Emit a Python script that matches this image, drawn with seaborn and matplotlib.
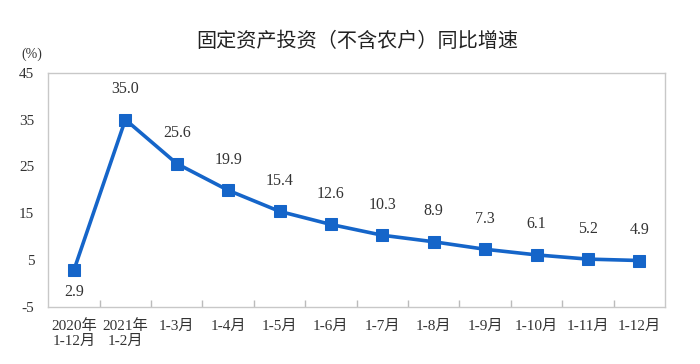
import numpy as np
import pandas as pd
import matplotlib.pyplot as plt
import seaborn as sns
from matplotlib.ticker import FixedLocator

# dados do gráfico
periods = ['2020年\n1-12月', '2021年\n1-2月', '1-3月', '1-4月', '1-5月', '1-6月',
           '1-7月', '1-8月', '1-9月', '1-10月', '1-11月', '1-12月']
growth = [2.9, 35.0, 25.6, 19.9, 15.4, 12.6, 10.3, 8.9, 7.3, 6.1, 5.2, 4.9]
y_ticks = [-5, 5, 15, 25, 35, 45]

sns.set_theme(style='white')
plt.rcParams['font.family'] = ['Liberation Serif', 'Noto Sans CJK SC']

df = pd.DataFrame({'pos': np.arange(len(periods)), 'growth': growth})

fig = plt.figure(figsize=(7, 3.64), dpi=100)
ax = fig.add_axes([0.069, 0.157, 0.881, 0.643])

blue = '#1565c9'
sns.lineplot(data=df, x='pos', y='growth', ax=ax, color=blue, linewidth=2.6,
             marker='s', markersize=8, markeredgecolor=blue, markerfacecolor=blue)

# rótulos dos valores
for i, v in enumerate(growth):
    if i == 0:
        ax.annotate(f'{v:.1f}', (i, v), xytext=(0, -16), textcoords='offset points',
                    ha='center', va='center', fontsize=11.5, color='#333333')
    else:
        ax.annotate(f'{v:.1f}', (i, v), xytext=(0, 22), textcoords='offset points',
                    ha='center', va='center', fontsize=11.5, color='#333333')

ax.set_xlim(-0.5, len(periods) - 0.5)
ax.set_ylim(-5, 45)
ax.set_yticks(y_ticks)
ax.set_yticklabels([str(t) for t in y_ticks], fontsize=11, color='#333333')
ax.set_xticks(range(len(periods)))
ax.set_xticklabels(periods, fontsize=11, color='#333333', linespacing=1.15)
ax.xaxis.set_minor_locator(FixedLocator(np.arange(0.5, len(periods) - 1, 1)))
ax.tick_params(axis='x', which='major', length=0, pad=9)
ax.tick_params(axis='x', which='minor', direction='in', length=5, color='#bbbbbb', bottom=True)
ax.tick_params(axis='y', length=0, pad=10)
ax.set_xlabel('')
ax.set_ylabel('')

for s in ax.spines.values():
    s.set_color('#c8c8c8')
    s.set_linewidth(1)

fig.text(0.51, 0.885, '固定资产投资（不含农户）同比增速', ha='center', va='center',
         fontsize=14.5, family=['Noto Sans CJK SC'], color='#222222')
fig.text(0.045, 0.85, '(%)', ha='center', va='center', fontsize=10, color='#333333')

fig.savefig('out.png', dpi=100)
